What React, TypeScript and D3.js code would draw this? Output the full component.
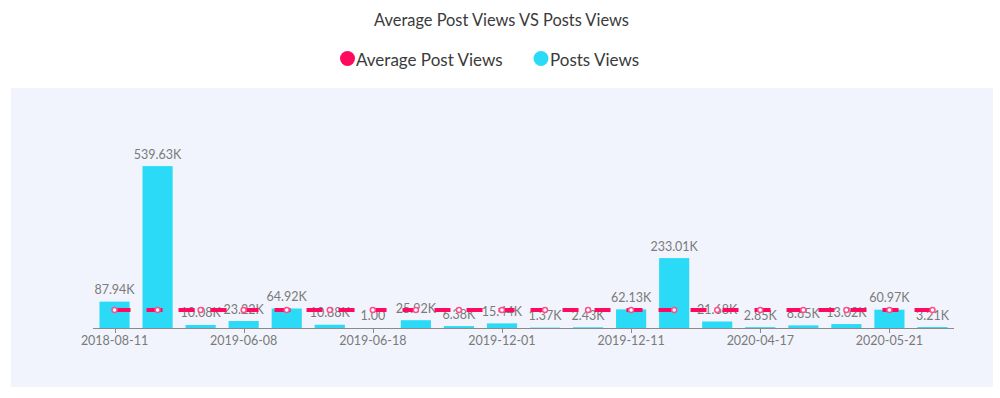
import React from "react";
import * as d3 from "d3";

const categories = [
  "2018-08-11", "2018-09-02", "2019-06-05", "2019-06-08", "2019-06-10",
  "2019-06-14", "2019-06-18", "2019-07-02", "2019-11-20", "2019-12-01",
  "2019-12-03", "2019-12-07", "2019-12-11", "2020-01-15", "2020-03-20",
  "2020-04-17", "2020-05-02", "2020-05-12", "2020-05-21", "2020-06-01",
];
const postsViews = [
  87940, 539630, 10080, 23220, 64920, 10880, 1, 25920, 6380, 15440,
  1370, 2430, 62130, 233010, 21680, 2850, 8850, 13020, 60970, 3210,
];
const averagePostViews = [
  59697, 59697, 59697, 59697, 59697, 59697, 59697, 59697, 59697, 59697,
  59697, 59697, 59697, 59697, 59697, 59697, 59697, 59697, 59697, 59697,
];
const seriesNames = ["Average Post Views", "Posts Views"];
const yDomain = [0, 600000];

const W = 1000;
const H = 398;
const FONT = "Lato, 'Open Sans', sans-serif";
const PINK = "#ff0a5e";
const CYAN = "#2bdaf6";

function fmt(v: number) {
  return v >= 1000 ? (v / 1000).toFixed(2) + "K" : v.toFixed(2);
}

export default function App() {
  const x = d3.scaleBand<string>().domain(categories).range([93, 954]).paddingInner(0).paddingOuter(0);
  const y = d3.scaleLinear().domain(yDomain).range([328, 148]);
  const bw = x.bandwidth() * 0.7;
  const cx = (c: string) => (x(c) as number) + x.bandwidth() / 2;
  const line = d3
    .line<number>()
    .x((_, i) => cx(categories[i]))
    .y((d) => y(d));
  const tickIdx = categories.map((_, i) => i).filter((i) => i % 3 === 0);

  return (
    <svg
      width={W}
      height={H}
      style={{ position: "absolute", left: 0, top: 0, fontFamily: FONT }}
    >
      <rect x={0} y={0} width={W} height={H} fill="#ffffff" />
      <rect x={11} y={88} width={982} height={299} fill="#f1f4fc" />
      <text x={501.5} y={26} textAnchor="middle" fontSize={16.4} fill="#3a3a3a">
        Average Post Views VS Posts Views
      </text>
      {/* legend */}
      <circle cx={347.5} cy={58.5} r={7.5} fill={PINK} />
      <text x={356} y={65.5} fontSize={17} fill="#3a3a3a">
        {seriesNames[0]}
      </text>
      <circle cx={541} cy={58.5} r={7.5} fill={CYAN} />
      <text x={550} y={65.5} fontSize={17} fill="#3a3a3a">
        {seriesNames[1]}
      </text>

      {/* bars */}
      {postsViews.map((v, i) => (
        <rect
          key={"b" + i}
          x={cx(categories[i]) - bw / 2}
          y={y(v)}
          width={bw}
          height={y(0) - y(v)}
          fill={CYAN}
        />
      ))}
      {postsViews.map((v, i) => (
        <text
          key={"l" + i}
          x={cx(categories[i])}
          y={y(v) - 7.5}
          textAnchor="middle"
          fontSize={12.5}
          fill="#7a7a7a"
        >
          {fmt(v)}
        </text>
      ))}

      {/* axis */}
      <line x1={93} x2={954} y1={328.5} y2={328.5} stroke="#8a8a8a" strokeWidth={1} />
      {tickIdx.map((i) => (
        <g key={"t" + i}>
          <line
            x1={Math.round(cx(categories[i])) + 0.5}
            x2={Math.round(cx(categories[i])) + 0.5}
            y1={328}
            y2={333}
            stroke="#8a8a8a"
          />
          <text
            x={cx(categories[i])}
            y={345}
            textAnchor="middle"
            fontSize={12.5}
            fill="#7a7a7a"
          >
            {categories[i]}
          </text>
        </g>
      ))}

      {/* average line */}
      <path
        d={line(averagePostViews) || ""}
        fill="none"
        stroke={PINK}
        strokeWidth={4}
        strokeDasharray="16,16"
      />
      {averagePostViews.map((v, i) => (
        <circle
          key={"p" + i}
          cx={cx(categories[i])}
          cy={y(v)}
          r={2.5}
          fill="#fff"
          stroke="#ff4f8a"
          strokeWidth={1.5}
        />
      ))}
    </svg>
  );
}
